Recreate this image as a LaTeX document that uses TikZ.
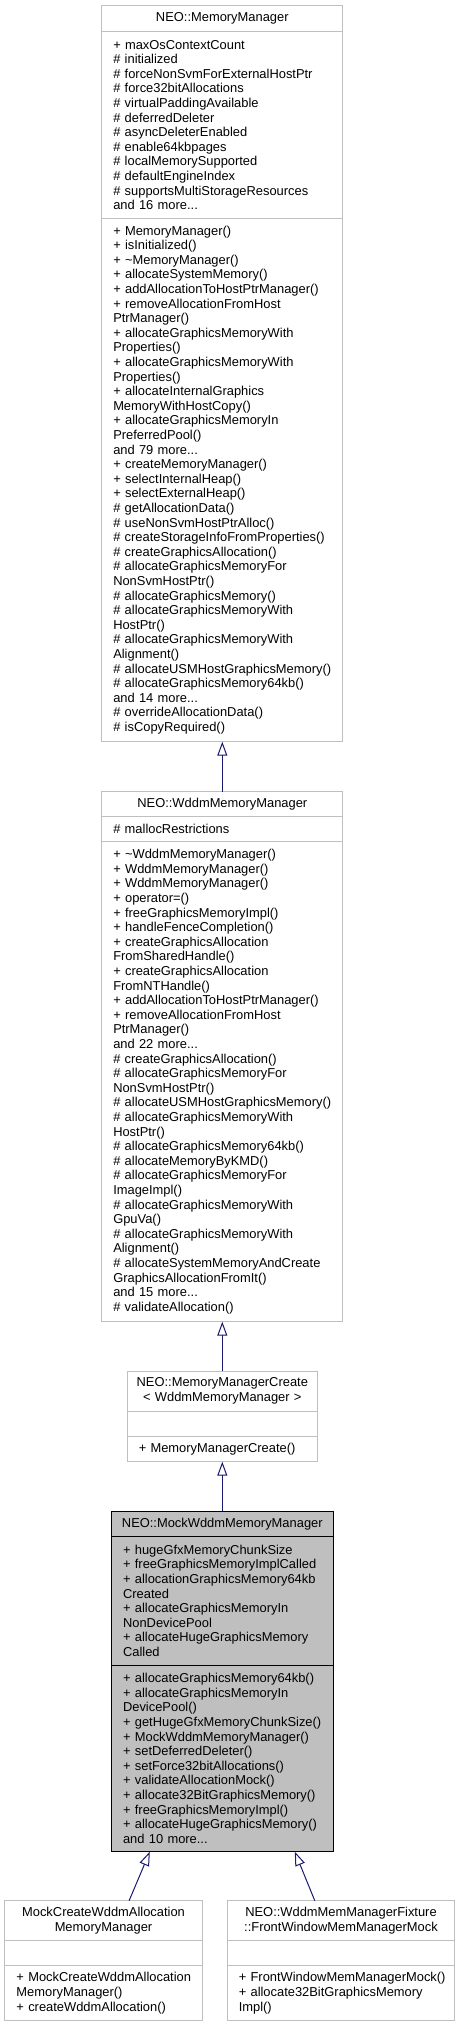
\documentclass[tikz,border=0pt]{standalone}
\usepackage{fontspec}
\setmainfont{Liberation Sans}
\usetikzlibrary{arrows.meta, positioning}
\definecolor{edgeblue}{RGB}{25, 25, 112}
\definecolor{boxgrey}{RGB}{191, 191, 191}
\definecolor{focusfill}{RGB}{191, 191, 191}
\tikzset{
    font=\fontsize{12.9}{14.6}\selectfont,
    cpart/.style={rectangle, draw=boxgrey, fill=white, line width=1pt, inner xsep=4pt, inner ysep=0pt, outer sep=0pt, text width=#1-8pt},
    ctitle/.style={cpart=#1, align=center},
    cmembers/.style={cpart=#1, align=left, execute at begin node={\leftskip=7.6pt\relax}},
    focus/.style={draw=black, fill=focusfill},
    inherit/.style={-{Triangle[open, length=14pt, width=10pt]}, line width=1pt, color=edgeblue}
}
\begin{document}
\begin{tikzpicture}[x=1pt, y=1pt]
    \useasboundingbox (0,0) rectangle (461,-2027);

    % NEO::MemoryManager
    \node (mm-title) [ctitle=241.3pt, minimum height=26.7pt, anchor=north] at (222.3,-5) {NEO::MemoryManager};
    \node (mm-attr) [cmembers=241.3pt, minimum height=186.6pt, below=0pt of mm-title] {+ maxOsContextCount\\\# initialized\\\# forceNonSvmForExternalHostPtr\\\# force32bitAllocations\\\# virtualPaddingAvailable\\\# deferredDeleter\\\# asyncDeleterEnabled\\\# enable64kbpages\\\# localMemorySupported\\\# defaultEngineIndex\\\# supportsMultiStorageResources\\and 16 more...};
    \node (mm-ops) [cmembers=241.3pt, minimum height=523.4pt, below=0pt of mm-attr] {+ MemoryManager()\\+ isInitialized()\\+ \textasciitilde MemoryManager()\\+ allocateSystemMemory()\\+ addAllocationToHostPtrManager()\\+ removeAllocationFromHost\\PtrManager()\\+ allocateGraphicsMemoryWith\\Properties()\\+ allocateGraphicsMemoryWith\\Properties()\\+ allocateInternalGraphics\\MemoryWithHostCopy()\\+ allocateGraphicsMemoryIn\\PreferredPool()\\and 79 more...\\+ createMemoryManager()\\+ selectInternalHeap()\\+ selectExternalHeap()\\\# getAllocationData()\\\# useNonSvmHostPtrAlloc()\\\# createStorageInfoFromProperties()\\\# createGraphicsAllocation()\\\# allocateGraphicsMemoryFor\\NonSvmHostPtr()\\\# allocateGraphicsMemory()\\\# allocateGraphicsMemoryWith\\HostPtr()\\\# allocateGraphicsMemoryWith\\Alignment()\\\# allocateUSMHostGraphicsMemory()\\\# allocateGraphicsMemory64kb()\\and 14 more...\\\# overrideAllocationData()\\\# isCopyRequired()};

    % NEO::WddmMemoryManager
    \node (wmm-title) [ctitle=241.3pt, minimum height=25pt, below=50pt of mm-ops] {NEO::WddmMemoryManager};
    \node (wmm-attr) [cmembers=241.3pt, minimum height=25pt, below=0pt of wmm-title] {\# mallocRestrictions};
    \node (wmm-ops) [cmembers=241.3pt, minimum height=480pt, below=0pt of wmm-attr] {+ \textasciitilde WddmMemoryManager()\\+ WddmMemoryManager()\\+ WddmMemoryManager()\\+ operator=()\\+ freeGraphicsMemoryImpl()\\+ handleFenceCompletion()\\+ createGraphicsAllocation\\FromSharedHandle()\\+ createGraphicsAllocation\\FromNTHandle()\\+ addAllocationToHostPtrManager()\\+ removeAllocationFromHost\\PtrManager()\\and 22 more...\\\# createGraphicsAllocation()\\\# allocateGraphicsMemoryFor\\NonSvmHostPtr()\\\# allocateUSMHostGraphicsMemory()\\\# allocateGraphicsMemoryWith\\HostPtr()\\\# allocateGraphicsMemory64kb()\\\# allocateMemoryByKMD()\\\# allocateGraphicsMemoryFor\\ImageImpl()\\\# allocateGraphicsMemoryWith\\GpuVa()\\\# allocateGraphicsMemoryWith\\Alignment()\\\# allocateSystemMemoryAndCreate\\GraphicsAllocationFromIt()\\and 15 more...\\\# validateAllocation()};

    % NEO::MemoryManagerCreate
    \node (mmc-title) [ctitle=190.3pt, minimum height=40pt, below=49.3pt of wmm-ops] {NEO::MemoryManagerCreate\\< WddmMemoryManager >};
    \node (mmc-attr) [cmembers=190.3pt, minimum height=25.7pt, below=0pt of mmc-title] {};
    \node (mmc-ops) [cmembers=190.3pt, minimum height=25pt, below=0pt of mmc-attr] {+ MemoryManagerCreate()};

    % NEO::MockWddmMemoryManager
    \node (mock-title) [ctitle=221.7pt, focus, minimum height=25.7pt, below=49.3pt of mmc-ops] {NEO::MockWddmMemoryManager};
    \node (mock-attr) [cmembers=221.7pt, focus, minimum height=128.3pt, below=0pt of mock-title] {+ hugeGfxMemoryChunkSize\\+ freeGraphicsMemoryImplCalled\\+ allocationGraphicsMemory64kb\\Created\\+ allocateGraphicsMemoryIn\\NonDevicePool\\+ allocateHugeGraphicsMemory\\Called};
    \node (mock-ops) [cmembers=221.7pt, focus, minimum height=186.7pt, below=0pt of mock-attr] {+ allocateGraphicsMemory64kb()\\+ allocateGraphicsMemoryIn\\DevicePool()\\+ getHugeGfxMemoryChunkSize()\\+ MockWddmMemoryManager()\\+ setDeferredDeleter()\\+ setForce32bitAllocations()\\+ validateAllocationMock()\\+ allocate32BitGraphicsMemory()\\+ freeGraphicsMemoryImpl()\\+ allocateHugeGraphicsMemory()\\and 10 more...};

    % Derived mocks
    \node (mcw-title) [ctitle=197.3pt, minimum height=40pt, below=49pt of mock-ops, xshift=-118.8pt] {MockCreateWddmAllocation\\MemoryManager};
    \node (mcw-attr) [cmembers=197.3pt, minimum height=25pt, below=0pt of mcw-title] {};
    \node (mcw-ops) [cmembers=197.3pt, minimum height=55pt, below=0pt of mcw-attr] {+ MockCreateWddmAllocation\\MemoryManager()\\+ createWddmAllocation()};

    \node (fwm-title) [ctitle=227.7pt, minimum height=40pt, below=49pt of mock-ops, xshift=118.7pt] {NEO::WddmMemManagerFixture\\::FrontWindowMemManagerMock};
    \node (fwm-attr) [cmembers=227.7pt, minimum height=25pt, below=0pt of fwm-title] {};
    \node (fwm-ops) [cmembers=227.7pt, minimum height=55pt, below=0pt of fwm-attr] {+ FrontWindowMemManagerMock()\\+ allocate32BitGraphicsMemory\\Impl()};

    % Inheritance
    \draw [inherit] (wmm-title.north) -- (mm-ops.south);
    \draw [inherit] (mmc-title.north) -- (wmm-ops.south);
    \draw [inherit] (mock-title.north) -- (mmc-ops.south);
    \draw [inherit] ([xshift=25.6pt]mcw-title.north) -- ([xshift=-72.5pt]mock-ops.south);
    \draw [inherit] ([xshift=-26.2pt]fwm-title.north) -- ([xshift=72.5pt]mock-ops.south);

\end{tikzpicture}
\end{document}
